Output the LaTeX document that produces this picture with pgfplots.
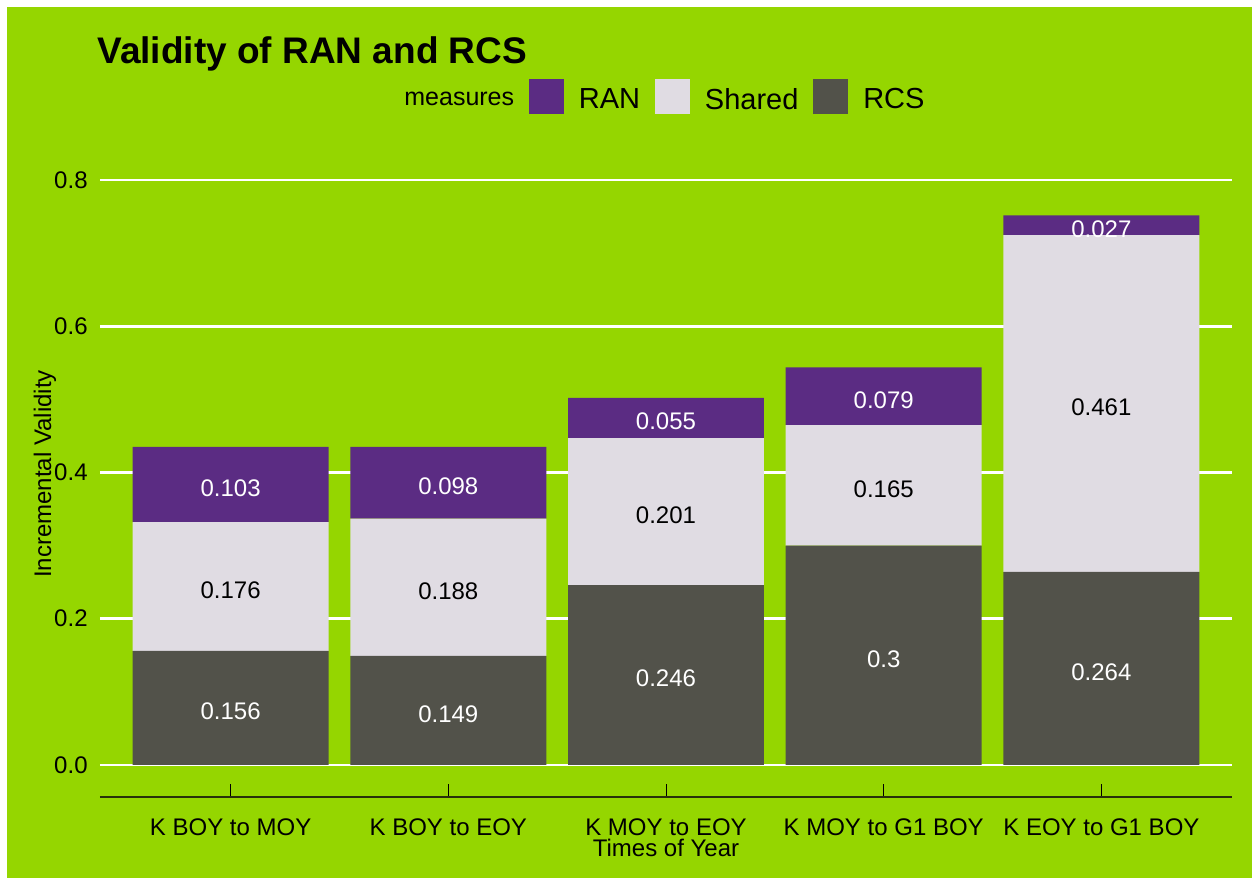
\documentclass[border=0pt]{standalone}
\usepackage{pgfplots}
\pgfplotsset{compat=1.18}
\usepackage{pgfplotstable}
\usepackage{fontspec}
\setmainfont{Liberation Sans}
\definecolor{bg}{RGB}{149,214,0}
\definecolor{ran}{RGB}{91,44,131}
\definecolor{shared}{RGB}{224,220,227}
\definecolor{rcs}{RGB}{82,82,74}
\definecolor{axisline}{RGB}{40,48,10}

\pgfplotstableread{
x rcs shared ran
1 0.156 0.176 0.103
2 0.149 0.188 0.098
3 0.246 0.201 0.055
4 0.3 0.165 0.079
5 0.264 0.461 0.027
}\bars

\begin{document}
\begin{tikzpicture}
\useasboundingbox (0,0) rectangle (626pt,439pt);
\fill[white] (0,0) rectangle (626pt,439pt);
\fill[bg] (3.5pt,0) rectangle (626pt,435.5pt);
\begin{axis}[
  at={(50pt,40.5pt)}, anchor=south west,
  scale only axis, width=566pt, height=323pt,
  xmin=0.4, xmax=5.6, ymin=-0.044, ymax=0.84,
  ybar stacked, bar width=0.9,
  axis x line*=bottom, axis y line*=left,
  x axis line style={-, axisline, line width=1pt},
  y axis line style={draw=none},
  xtick={1,2,3,4,5},
  xticklabels={K BOY to MOY, K BOY to EOY, K MOY to EOY, K MOY to G1 BOY, K EOY to G1 BOY},
  ytick={0,0.2,0.4,0.6,0.8},
  tick align=inside,
  x tick style={black, line width=0.5pt},
  major tick length=6.5pt,
  y tick style={draw=none},
  ymajorgrids, grid style={white, line width=1.2pt},
  /pgf/number format/assume math mode=true,
  tick label style={font=\fontsize{12}{14}\selectfont, text=black},
  yticklabel style={anchor=east, inner sep=0pt, xshift=-6pt,
    /pgf/number format/fixed, /pgf/number format/fixed zerofill, /pgf/number format/precision=1},
  xticklabel style={anchor=north, inner sep=0pt, yshift=-10.5pt},
  xlabel={Times of Year},
  every axis x label/.style={at={(axis description cs:0.5,0)}, anchor=north, yshift=-21pt, inner sep=0pt, font=\fontsize{12}{14}\selectfont},
  ylabel={Incremental Validity},
  every axis y label/.style={at={(axis description cs:-0.0486,0.5)}, anchor=center, rotate=90, inner sep=0pt, font=\fontsize{12}{14}\selectfont},
  title={Validity of RAN and RCS},
  title style={at={(axis description cs:-0.00265,1.1176)}, anchor=base west, inner sep=0pt, font=\bfseries\fontsize{18.5}{21}\selectfont},
  legend columns=-1,
  legend style={at={(axis description cs:0.492,1.0851)}, anchor=center, draw=none, fill=none,
    column sep=7.5pt, inner sep=0pt, nodes={inner sep=0pt}, font=\fontsize{14.5}{17}\selectfont},
  nodes near coords, point meta=explicit symbolic,
  every node near coord/.append style={anchor=center, yshift=-1.8pt, font=\fontsize{12}{14}\selectfont},
]
\addplot[fill=rcs, draw=none, forget plot,
  every node near coord/.append style={text=white}]
  table[x=x,y=rcs,meta=rcs]{\bars};
\addplot[fill=shared, draw=none, forget plot,
  every node near coord/.append style={text=black}]
  table[x=x,y=shared,meta=shared]{\bars};
\addplot[fill=ran, draw=none, forget plot,
  every node near coord/.append style={text=white}]
  table[x=x,y=ran,meta=ran]{\bars};

\addlegendimage{empty legend}
\addlegendentry{\fontsize{12.5}{15}\selectfont measures}
\addlegendimage{legend image code/.code={\fill[ran] (0pt,-6.5pt) rectangle (17pt,10.5pt);}}
\addlegendentry{RAN}
\addlegendimage{legend image code/.code={\fill[shared] (0pt,-6.5pt) rectangle (17pt,10.5pt);}}
\addlegendentry{Shared}
\addlegendimage{legend image code/.code={\fill[rcs] (0pt,-6.5pt) rectangle (17pt,10.5pt);}}
\addlegendentry{RCS}
\end{axis}
\end{tikzpicture}
\end{document}
